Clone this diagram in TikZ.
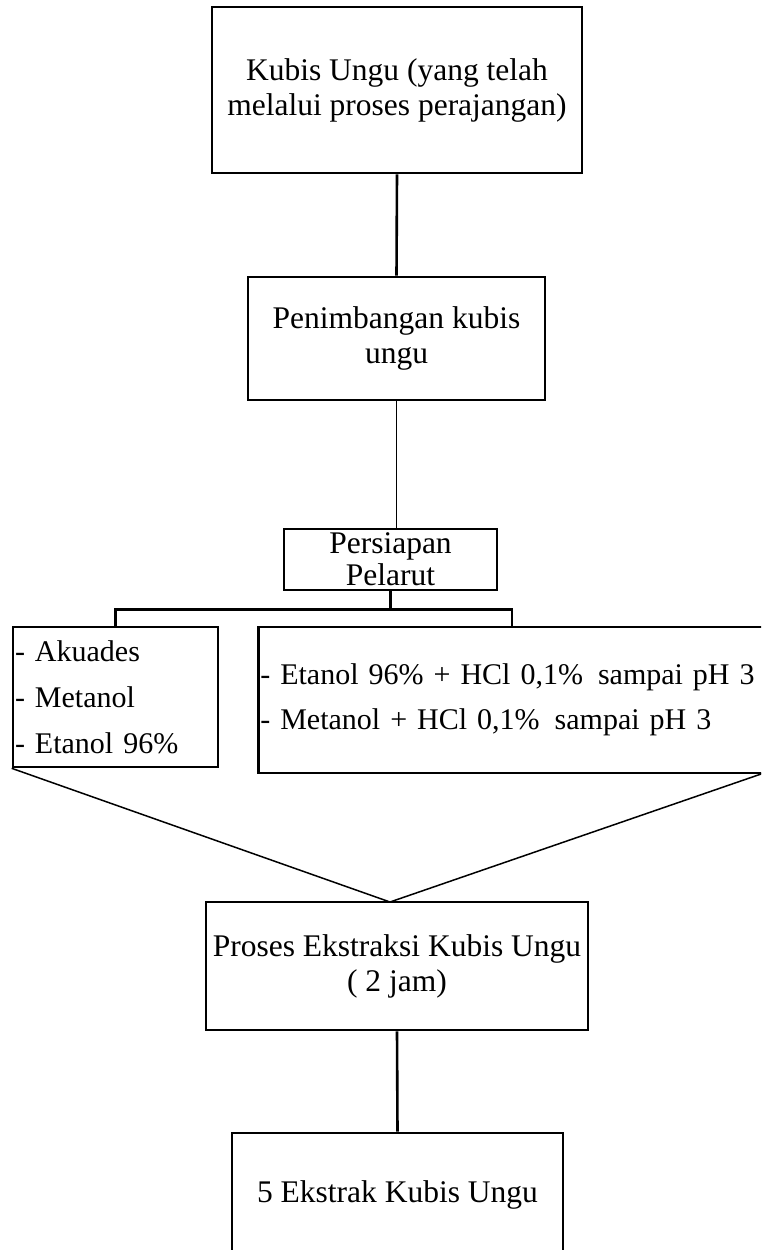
\documentclass[tikz,border=0pt]{standalone}
\usepackage{fontspec}
\setmainfont{Liberation Serif}

\newcommand{\solventfont}[1]{\fontsize{30}{#1}\selectfont}

\tikzset{
  stage/.style={draw, rectangle, line width=2.6pt, align=center, inner sep=0pt,
    font=\fontsize{31.5}{35}\selectfont},
  solvent/.style={draw, rectangle, line width=2.6pt, align=left, inner ysep=0pt, inner xsep=2pt},
  link/.style={line width=2.6pt},
  thinlink/.style={line width=1.3pt},
}

\begin{document}
\begin{tikzpicture}[x=1pt,y=-1pt]
            \clip (0,0) rectangle (761,1250);

            % tahap utama
            \node[stage, minimum width=370pt, minimum height=166pt] (kubis) at (397,90)
                {Kubis Ungu (yang telah\\melalui proses perajangan)};
            \node[stage, minimum width=297pt, minimum height=123pt] (timbang) at (396.5,338.5)
                {Penimbangan kubis\\ungu};
            \node[stage, minimum width=213pt, minimum height=61pt,
                  font=\fontsize{31.5}{32}\selectfont] (pelarut) at (390.5,559.5)
                {Persiapan\\Pelarut};

            % pelarut
            \node[solvent, text width=201pt, minimum height=140pt,
                  font=\solventfont{46}] (biasa) at (115.5,697)
                {- Akuades\\- Metanol\\- Etanol 96\%};
            \node[solvent, anchor=west, text width=540pt, minimum height=146pt,
                  font=\solventfont{45}] (asam) at (257,700)
                {- Etanol 96\% + HCl 0,1\%\, sampai pH 3\\- Metanol + HCl 0,1\%\, sampai pH 3};

            \node[stage, minimum width=382pt, minimum height=128pt] (proses) at (397,966)
                {Proses Ekstraksi Kubis Ungu\\( 2 jam)};
            \node[stage, minimum width=331pt, minimum height=123pt] (ekstrak) at (397.5,1194.5)
                {5 Ekstrak Kubis Ungu};

            % penghubung
            \draw[link] (kubis.south) -- (timbang.north);
            \draw[thinlink] (timbang.south) -- (timbang.south |- pelarut.north);
            \draw[link] (pelarut.south) -- ++(0,18) coordinate (cabang);
            \path (asam.north west) ++(255,0) coordinate (asam-atas);
            \draw[link] (biasa.north) |- (cabang) -| (asam-atas);

            \coordinate (temu) at (390,902);
            \coordinate (ujung) at (764,773);
            \draw[line width=1.5pt] (biasa.south west) -- (temu) -- (ujung);

            \draw[link] (proses.south) -- (ekstrak.north);
        \end{tikzpicture}
\end{document}
